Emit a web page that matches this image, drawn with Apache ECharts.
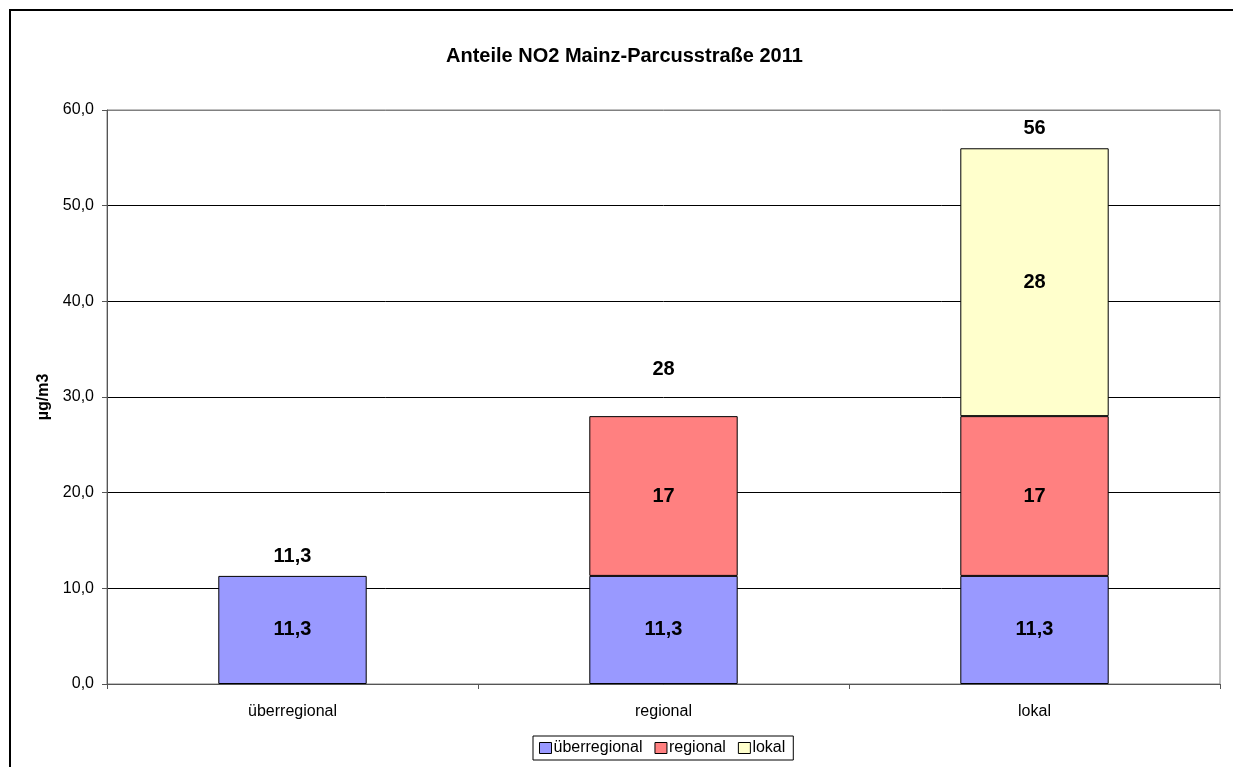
<!DOCTYPE html>
<html>
<head>
<meta charset="utf-8">
<script src="https://cdn.jsdelivr.net/npm/echarts@6/dist/echarts.min.js"></script>
<style>
  html, body { margin: 0; padding: 0; background: #fff; }
  #chart { width: 1233px; height: 767px; }
</style>
</head>
<body>
<div id="chart"></div>
<script>
const categories   = ['überregional', 'regional', 'lokal']
const ueberregional = [11.3, 11.3, 11.3]
const regional      = [null, 16.7, 16.7]
const lokal         = [null, null, 28]
const totals        = [11.3, 28, 56]
const yTicks        = [0, 10, 20, 30, 40, 50, 60]

const font = 'Liberation Sans, Arial, sans-serif'
const comma1 = v => v.toFixed(1).replace('.', ',')
const totalFmt = v => Number.isInteger(v) ? String(v) : comma1(v)

const chart = echarts.init(document.getElementById('chart'), null, { renderer: 'canvas' })

const inLabel = fmt => ({
  show: true, position: 'inside',
  fontFamily: font, fontSize: 20, fontWeight: 'bold', color: '#000',
  formatter: p => p.value == null ? '' : fmt(p.value)
})

const barStyle = color => ({ color, borderColor: '#000', borderWidth: 1 })

chart.setOption({
  backgroundColor: '#fff',
  animation: false,
  title: {
    text: 'Anteile NO2 Mainz-Parcusstraße 2011',
    left: 441, top: 41,
    textStyle: { fontFamily: font, fontSize: 20, fontWeight: 'bold', color: '#000' }
  },
  graphic: [{
    type: 'rect', shape: { x: 10, y: 10, width: 1240, height: 780 },
    style: { fill: 'none', stroke: '#000', lineWidth: 2 }, silent: true
  }],
  grid: {
    left: 107, right: 13, top: 110, bottom: 83,
    show: true, borderColor: '#808080', borderWidth: 1
  },
  legend: {
    bottom: 7, left: 533,
    data: categories,
    icon: 'rect',
    itemWidth: 12, itemHeight: 11, itemGap: 12,
    padding: [4, 8, 4, 6],
    borderColor: '#000', borderWidth: 1,
    textStyle: { fontFamily: font, fontSize: 16, color: '#000', padding: [0, 0, 0, -3] },
    itemStyle: { borderColor: '#000', borderWidth: 1 }
  },
  xAxis: {
    type: 'category', data: categories,
    axisLine: { lineStyle: { color: '#555', width: 1 } },
    axisTick: { show: true, length: 5, lineStyle: { color: '#555' } },
    axisLabel: { fontFamily: font, fontSize: 16, color: '#000', margin: 20 }
  },
  yAxis: {
    type: 'value', min: yTicks[0], max: yTicks[yTicks.length - 1], interval: 10,
    name: 'µg/m3', nameLocation: 'middle', nameGap: 52, nameRotate: 90,
    nameTextStyle: { fontFamily: font, fontSize: 16, fontWeight: 'bold', color: '#000' },
    axisLine: { show: true, lineStyle: { color: '#555', width: 1 } },
    axisTick: { show: true, length: 5, lineStyle: { color: '#555' } },
    axisLabel: { fontFamily: font, fontSize: 16, color: '#000', margin: 13, formatter: v => comma1(v) },
    splitLine: { lineStyle: { color: ['#000', '#000', '#000', '#000', '#000', '#000', '#808080'], width: 1 } }
  },
  series: [
    {
      name: 'überregional', type: 'bar', stack: 'a', barWidth: '40%',
      data: ueberregional, itemStyle: barStyle('#9999FF'), label: inLabel(comma1)
    },
    {
      name: 'regional', type: 'bar', stack: 'a',
      data: regional, itemStyle: barStyle('#FF8080'), label: inLabel(v => String(Math.round(v)))
    },
    {
      name: 'lokal', type: 'bar', stack: 'a',
      data: lokal, itemStyle: barStyle('#FFFFCC'), label: inLabel(v => String(Math.round(v)))
    },
    {
      name: 'Summe', type: 'scatter', symbolSize: 1,
      itemStyle: { color: 'rgba(0,0,0,0)', opacity: 1 },
      data: totals.map((v, i) => ({
        value: v,
        label: { distance: i === 1 ? 36 : 9 }
      })),
      label: {
        show: true, position: 'top',
        fontFamily: font, fontSize: 20, fontWeight: 'bold', color: '#000',
        formatter: p => totalFmt(p.value)
      },
      silent: true
    }
  ]
})
</script>
</body>
</html>
